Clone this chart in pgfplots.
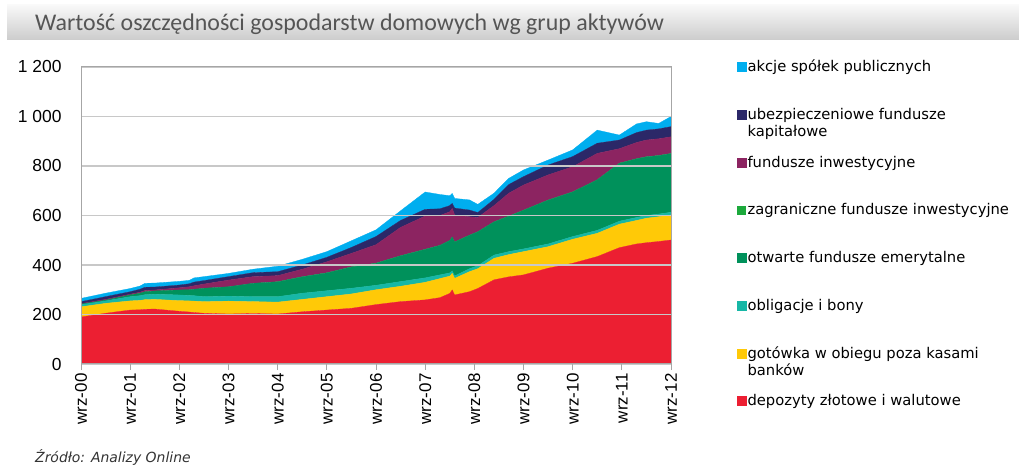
\documentclass[border=0pt]{standalone}
\usepackage{pgfplots}
\pgfplotsset{compat=1.18}
\usepackage{pgfplotstable}
\usepackage{fontspec}
\setmainfont{Liberation Sans}
\newfontfamily\legfont{DejaVu Sans}
\newfontfamily\titlefont{Carlito}

\definecolor{cAkc}{HTML}{00AEEF}
\definecolor{cUfk}{HTML}{2B2868}
\definecolor{cFi}{HTML}{8C2461}
\definecolor{cZag}{HTML}{1CA93C}
\definecolor{cOfe}{HTML}{00915B}
\definecolor{cObl}{HTML}{17B7A6}
\definecolor{cGot}{HTML}{FFC907}
\definecolor{cDep}{HTML}{EC1F32}
\definecolor{titlegray}{HTML}{555555}
\definecolor{axisgray}{HTML}{A6A6A6}
\definecolor{gridgray}{HTML}{C8C8C8}

\pgfplotstableread{
x     dep got obl ofe zag fi  ufk akc
0.0   190 41  9   2   0   2   8   13
0.5   205 40  10  3   0   3   11  14
1.0   218 37  17  7   0   3   10  13
1.2   219 38  19  10  0   4   12  13
1.3   221 39  20  12  0   5   13  16
1.5   222 39  21  13  0   4   12  16
2.0   213 43  23  20  0   9   11  15
2.2   210 45  22  23  0   12  12  14
2.3   208 46  22  26  0   14  15  17
2.5   205 47  20  34  0   17  14  16
3.0   202 52  20  38  0   27  14  13
3.5   204 48  20  54  0   27  16  14
4.0   202 48  22  60  1   24  16  22
4.5   211 50  25  66  1   30  17  23
5.0   218 54  24  72  1   44  18  23
5.5   225 58  23  86  1   54  24  27
6.0   240 60  18  89  1   74  33  27
6.5   252 62  19  104 1   114 28  39
7.0   259 71  18  115 1   134 27  70
7.3   268 77  15  119 1   120 27  58
7.5   285 70  13  131 1   115 25  40
7.55  299 67  10  137 1   115 20  40
7.6   279 67  10  137 1   108 28  39
7.9   292 81  12  135 1   74  27  41
8.07  305 80  12  137 1   57  20  33
8.4   340 87  13  134 1   65  25  25
8.7   352 90  12  143 1   92  35  25
9.0   360 94  11  156 1   101 34  27
9.5   387 87  11  177 1   101 40  20
10.0  407 97  11  180 1   101 41  27
10.5  434 94  12  204 1   106 41  53
10.95 470 95  12  234 1   58  35  20
11.3  485 95  12  237 1   65  40  35
11.5  490 99  11  237 1   67  40  34
11.75 495 100 11  236 1   67  40  22
12.0  501 101 11  237 1   67  41  41
}\data

\begin{document}
\begin{tikzpicture}
\path[use as bounding box] (0,0) rectangle (1019bp,467bp);
\shade[top color=gray!5, bottom color=gray!40] (7bp,427bp) rectangle (1019bp,462bp);
\node[anchor=base west, font=\titlefont\fontsize{24}{24}\selectfont, text=titlegray, inner sep=0] at (35bp,436bp) {Wartość oszczędności gospodarstw domowych wg grup aktywów};
\node[anchor=base west, font=\legfont\itshape\fontsize{14}{14}\selectfont, text=black!80, inner sep=0] at (35bp,4.5bp) {Źródło: Analizy Online};
\begin{axis}[
  at={(81bp,103bp)}, anchor=south west,
  scale only axis, width=590bp, height=297bp,
  xmin=0, xmax=12, ymin=0, ymax=1200,
  stack plots=y, area style,
  axis line style={draw=axisgray, line width=1bp},
  ymajorgrids, grid style={draw=gridgray, line width=1.2bp},
  ytick={0,200,...,1200},
  yticklabels={0,200,400,600,800,1 000,1 200},
  xtick={0,...,12},
  xticklabels={wrz-00,wrz-01,wrz-02,wrz-03,wrz-04,wrz-05,wrz-06,wrz-07,wrz-08,wrz-09,wrz-10,wrz-11,wrz-12},
  tick pos=left, tick align=outside, major tick length=6bp,
  ytick style={draw=none},
  xtick style={draw=axisgray, line width=1bp},
  x tick label style={rotate=90, anchor=east, font=\fontsize{17}{17}\selectfont},
  y tick label style={font=\fontsize{17.5}{17.5}\selectfont, xshift=-10bp},
  legend style={at={(1.1119,1.0505)}, anchor=north west, draw=none, fill=none,
    inner sep=0pt, row sep=0pt, font=\legfont\fontsize{14.8}{17}\selectfont,
    nodes={inner sep=1bp}},
  legend cell align=left, reverse legend,
  legend image code/.code={\path (0bp,-33bp) (0bp,14.5bp); \fill[#1] (0bp,-4.5bp) rectangle (9bp,4.5bp);},
]
\addplot[fill=cDep, draw=cDep, line width=0.3pt] table[x=x,y=dep]{\data} \closedcycle;
\addlegendentry{depozyty złotowe i walutowe}
\addplot[fill=cGot, draw=cGot, line width=0.3pt] table[x=x,y=got]{\data} \closedcycle;
\addlegendentry{\parbox[t]{260bp}{gotówka w obiegu poza kasami\\banków}}
\addplot[fill=cObl, draw=cObl, line width=0.3pt] table[x=x,y=obl]{\data} \closedcycle;
\addlegendentry{obligacje i bony}
\addplot[fill=cOfe, draw=cOfe, line width=0.3pt] table[x=x,y=ofe]{\data} \closedcycle;
\addlegendentry{otwarte fundusze emerytalne}
\addplot[fill=cZag, draw=none] table[x=x,y=zag]{\data} \closedcycle;
\addlegendentry{zagraniczne fundusze inwestycyjne}
\addplot[fill=cFi, draw=cFi, line width=0.3pt] table[x=x,y=fi]{\data} \closedcycle;
\addlegendentry{fundusze inwestycyjne}
\addplot[fill=cUfk, draw=cUfk, line width=0.3pt] table[x=x,y=ufk]{\data} \closedcycle;
\addlegendentry{\parbox[t]{260bp}{ubezpieczeniowe fundusze\\kapitałowe}}
\addplot[fill=cAkc, draw=cAkc, line width=0.3pt] table[x=x,y=akc]{\data} \closedcycle;
\addlegendentry{akcje spółek publicznych}
\end{axis}
\end{tikzpicture}
\end{document}
